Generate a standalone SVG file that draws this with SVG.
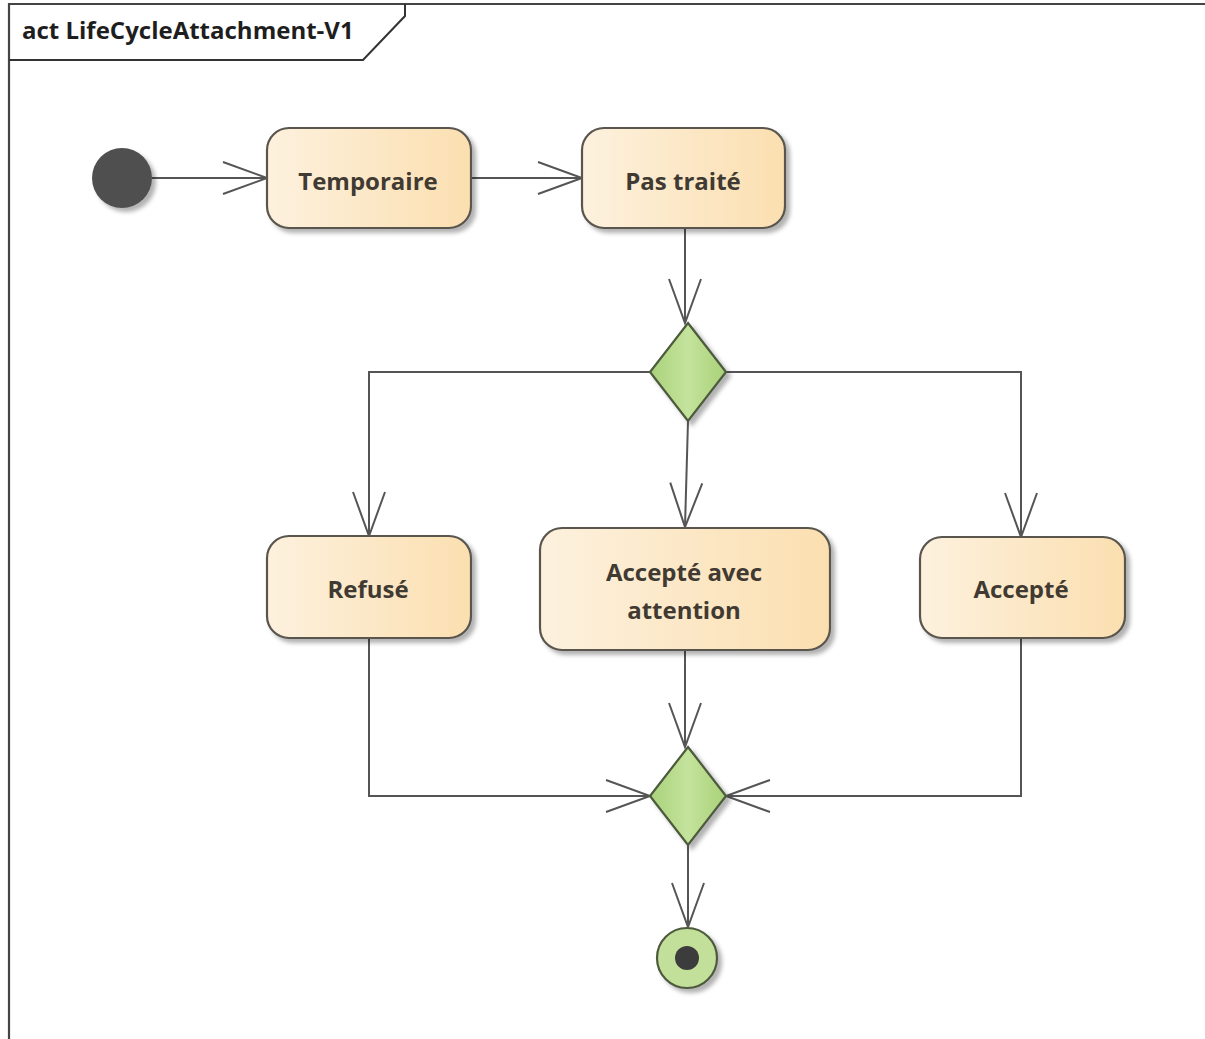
<svg xmlns="http://www.w3.org/2000/svg" width="1205" height="1039" viewBox="0 0 1205 1039">
<defs>
<linearGradient id="act" x1="0" y1="0" x2="1" y2="0">
<stop offset="0" stop-color="#fdf1de"/>
<stop offset="1" stop-color="#fbdfb0"/>
</linearGradient>
<linearGradient id="grn" x1="0" y1="0" x2="1" y2="0">
<stop offset="0" stop-color="#a9d27a"/>
<stop offset="0.5" stop-color="#c4e39c"/>
<stop offset="1" stop-color="#a8d178"/>
</linearGradient>
<filter id="sh" x="-20%" y="-20%" width="140%" height="140%">
<feDropShadow dx="4" dy="4" stdDeviation="2" flood-color="#000" flood-opacity="0.3"/>
</filter>
<marker id="arr" markerUnits="userSpaceOnUse" viewBox="-48 -20 52 40" refX="0" refY="0" markerWidth="52" markerHeight="40" orient="auto">
<path d="M-44,-16 L0,0 L-44,16" fill="none" stroke="#555" stroke-width="2"/>
</marker>
<style>
.node{fill:url(#act);stroke:#5a564e;stroke-width:2.2;filter:url(#sh)}
.dec{fill:url(#grn);stroke:#4d5a3c;stroke-width:2.2;filter:url(#sh)}
.lbl{font-family:"Open Sans","Liberation Sans",sans-serif;font-weight:700;font-size:24px;fill:#403a32;text-anchor:middle}
.edge{fill:none;stroke:#555;stroke-width:2;marker-end:url(#arr)}
</style>
</defs>
<rect width="1205" height="1039" fill="#fff"/>
<g id="frame">
<path d="M9,1039 L9,4 L1205,4" fill="none" stroke="#444" stroke-width="2.2"/>
<path d="M9,60 L363,60 L405,16 L405,4" fill="none" stroke="#333" stroke-width="2"/>
<text x="22" y="39" font-family="'Open Sans','Liberation Sans',sans-serif" font-weight="700" font-size="24" fill="#1e1e1e">act LifeCycleAttachment-V1</text>
</g>
<g id="connectors">
<line class="edge" x1="152" y1="178" x2="267" y2="178"/>
<line class="edge" x1="471" y1="178" x2="582" y2="178"/>
<line class="edge" x1="685" y1="228" x2="685" y2="323"/>
<polyline class="edge" points="650,372 369,372 369,536"/>
<polyline class="edge" points="726,372 1021,372 1021,537"/>
<polyline class="edge" points="688,421 685,527"/>
<polyline class="edge" points="369,638 369,796 650,796"/>
<polyline class="edge" points="1021,638 1021,796 726,796"/>
<polyline class="edge" points="685,650 685,747"/>
<polyline class="edge" points="688,845 688,927"/>
</g>
<g id="initial">
<circle cx="122" cy="178" r="30" fill="#505050" filter="url(#sh)"/>
</g>
<g id="temporaire">
<rect class="node" x="267" y="128" width="204" height="100" rx="22"/>
<text class="lbl" x="368" y="190">Temporaire</text>
</g>
<g id="pas-traite">
<rect class="node" x="582" y="128" width="203" height="100" rx="22"/>
<text class="lbl" x="683" y="190">Pas traité</text>
</g>
<g id="decision1">
<polygon class="dec" points="688,323 726,372 688,421 650,372"/>
</g>
<g id="refuse">
<rect class="node" x="267" y="536" width="204" height="102" rx="22"/>
<text class="lbl" x="368" y="598">Refusé</text>
</g>
<g id="accepte-attention">
<rect class="node" x="540" y="528" width="290" height="122" rx="22"/>
<text class="lbl" x="684" y="581">Accepté avec</text>
<text class="lbl" x="684" y="619">attention</text>
</g>
<g id="accepte">
<rect class="node" x="920" y="537" width="205" height="101" rx="22"/>
<text class="lbl" x="1021" y="598">Accepté</text>
</g>
<g id="decision2">
<polygon class="dec" points="688,747 726,796 688,845 650,796"/>
</g>
<g id="final">
<circle cx="687" cy="958" r="30" fill="#c3e09a" stroke="#4d5a3c" stroke-width="2.2" filter="url(#sh)"/>
<circle cx="687" cy="958" r="12" fill="#3c3c3c"/>
</g>
</svg>
